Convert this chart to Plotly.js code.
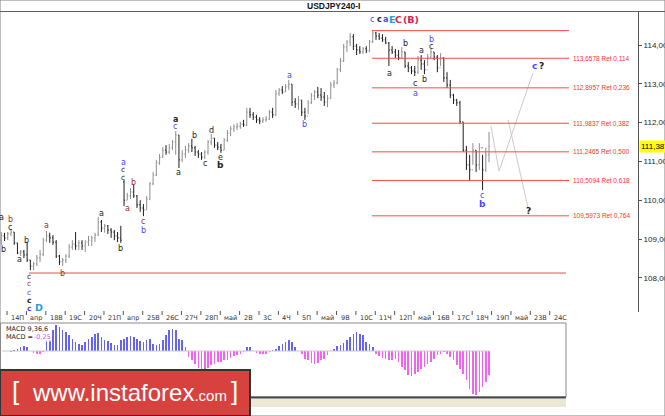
<!DOCTYPE html>
<html><head><meta charset="utf-8">
<script src="https://cdn.plot.ly/plotly-3.0.1.min.js"></script>
<style>html,body{margin:0;padding:0;background:#fff}#chart{width:665px;height:416px}</style>
</head><body><div id="chart"></div>
<script>
// ---------------- DATA ----------------
const openP = [108.97,109.08,109.03,109.13,109.18,108.90,108.64,108.67,108.59,108.46,
 108.30,108.36,108.51,108.61,108.97,109.08,109.03,108.92,108.56,108.41,
 108.46,108.56,108.79,108.87,108.82,108.90,108.82,108.92,108.97,109.03,
 109.10,109.44,109.28,109.34,109.23,109.18,109.08,109.03,110.47,110.00,
 110.11,110.21,110.11,109.88,109.80,109.75,110.03,110.42,110.65,110.96,
 111.11,111.29,111.24,111.35,111.50,111.68,111.04,111.19,111.29,111.40,
 111.35,111.24,111.19,111.11,111.24,111.50,111.60,111.42,111.37,111.29,
 111.55,111.73,111.84,111.89,111.91,111.96,111.94,112.27,112.20,112.14,
 112.07,112.04,112.07,112.09,112.27,112.20,112.74,112.84,112.79,112.92,
 112.99,112.53,112.48,112.58,112.27,112.17,112.51,112.69,112.79,112.71,
 112.66,112.53,112.63,112.97,113.02,113.36,113.59,113.95,114.08,114.21,
 113.97,113.87,113.82,113.90,113.85,114.08,114.31,114.23,114.18,114.13,
 114.05,113.87,113.82,113.74,113.67,113.82,113.46,113.41,113.33,113.30,
 113.61,113.51,113.36,113.69,113.82,113.69,113.41,113.67,113.15,112.97,
 112.71,112.58,112.51,112.02,111.29,110.91,110.78,111.29,110.91,111.35,
 110.78,111.17];
const highP = [109.18,109.16,109.18,109.26,109.18,108.90,108.72,108.72,108.92,108.46,
 108.41,108.59,108.72,109.03,109.21,109.16,109.10,108.97,108.59,108.51,
 108.61,108.87,108.97,109.18,108.97,108.97,108.97,109.08,109.08,109.16,
 109.57,109.49,109.39,109.36,109.28,109.23,109.18,109.34,110.52,110.19,
 110.31,110.39,110.13,110.00,109.90,110.11,110.47,110.73,111.04,111.19,
 111.37,111.42,111.45,111.55,111.78,111.68,111.29,111.40,111.47,111.58,
 111.40,111.29,111.24,111.29,111.55,111.71,111.60,111.50,111.45,111.60,
 111.81,111.91,111.96,111.99,112.02,112.07,112.38,112.38,112.27,112.20,
 112.14,112.14,112.17,112.33,112.38,112.84,112.89,112.94,112.99,113.10,
 112.99,112.63,112.69,112.58,112.38,112.58,112.76,112.84,112.92,112.89,
 112.79,112.71,113.05,113.10,113.41,113.67,114.03,114.13,114.31,114.28,
 114.03,113.97,113.95,113.97,114.13,114.39,114.34,114.31,114.28,114.21,
 114.08,113.97,113.90,113.87,113.95,113.82,113.56,113.46,113.46,113.72,
 113.74,113.61,113.77,113.90,113.82,113.74,113.79,113.67,113.30,113.10,
 112.74,112.61,112.56,112.02,111.40,111.17,111.47,111.29,111.47,111.17,
 111.35,111.76];
const lowP = [108.85,108.95,108.97,109.08,108.85,108.61,108.56,108.51,108.41,108.20,
 108.20,108.30,108.41,108.56,108.92,108.90,108.85,108.51,108.33,108.30,
 108.38,108.51,108.72,108.72,108.72,108.72,108.67,108.82,108.82,108.92,
 109.08,109.18,109.16,109.13,109.03,108.97,108.92,108.90,109.85,110.00,
 110.03,110.06,109.80,109.70,109.59,109.75,110.00,110.39,110.62,110.91,
 111.09,111.17,111.19,111.29,111.17,110.83,110.98,111.09,111.22,111.24,
 111.14,111.09,111.04,111.06,111.17,111.42,111.35,111.29,111.22,111.29,
 111.50,111.65,111.76,111.81,111.84,111.89,111.91,112.12,112.07,111.99,
 111.96,111.99,112.02,112.07,112.12,112.17,112.69,112.74,112.79,112.84,
 112.43,112.38,112.33,112.17,112.07,112.22,112.48,112.58,112.63,112.56,
 112.43,112.40,112.61,112.89,112.99,113.30,113.56,113.82,113.97,113.87,
 113.74,113.77,113.77,113.79,113.82,114.05,114.13,114.13,114.08,114.03,
 113.46,113.77,113.67,113.61,113.67,113.41,113.30,113.25,113.20,113.25,
 113.36,113.25,113.46,113.67,113.61,113.30,113.46,113.05,112.89,112.63,
 112.48,112.43,111.96,111.24,110.78,110.52,110.91,110.73,110.78,110.26,
 110.73,110.98];
const closeP = [109.08,109.03,109.13,109.18,108.90,108.64,108.67,108.59,108.46,108.30,
 108.36,108.51,108.61,108.97,109.08,109.03,108.92,108.56,108.41,108.46,
 108.56,108.79,108.87,108.82,108.90,108.82,108.92,108.97,109.03,109.10,
 109.44,109.28,109.34,109.23,109.18,109.08,109.03,108.97,110.00,110.11,
 110.21,110.11,109.88,109.80,109.75,110.03,110.42,110.65,110.96,111.11,
 111.29,111.24,111.35,111.50,111.68,111.04,111.19,111.29,111.40,111.35,
 111.24,111.19,111.11,111.24,111.50,111.60,111.42,111.37,111.29,111.55,
 111.73,111.84,111.89,111.91,111.96,111.94,112.27,112.20,112.14,112.07,
 112.04,112.07,112.09,112.27,112.20,112.74,112.84,112.79,112.92,112.99,
 112.53,112.48,112.58,112.27,112.17,112.51,112.69,112.79,112.71,112.66,
 112.53,112.63,112.97,113.02,113.36,113.59,113.95,114.08,114.21,113.97,
 113.87,113.82,113.90,113.85,114.08,114.31,114.23,114.18,114.13,114.05,
 113.87,113.82,113.74,113.67,113.82,113.46,113.41,113.33,113.30,113.61,
 113.51,113.36,113.69,113.82,113.69,113.41,113.67,113.15,112.97,112.71,
 112.58,112.51,112.02,111.29,110.91,110.78,111.29,110.91,111.35,110.78,
 111.17,111.387];
const macdHist = [0,0,-0.005,-0.010,0.010,0.021,0.042,0.052,0.042,0.002,-0.021,-0.031,-0.031,-0.010,
 0.114,0.114,0.218,0.270,0.250,0.218,0.198,0.166,0.125,0.094,
 0.073,0.062,0.094,0.125,0.146,0.177,0.187,0.146,0.114,0.104,
 0.083,0.062,0.062,0.114,0.125,0.146,0.156,0.146,0.125,0.104,
 0.094,0.114,0.125,0.073,0.062,0.073,0.114,0.166,0.218,0.229,
 0.218,0.125,0.114,0.042,-0.062,-0.094,-0.135,-0.177,-0.187,-0.198,
 -0.177,-0.146,-0.135,-0.114,-0.114,-0.094,-0.094,-0.073,-0.052,-0.042,
 -0.031,-0.010,0.042,0.042,0.002,-0.021,-0.031,-0.031,-0.031,-0.010,
 0.010,0.021,0.052,0.073,0.094,0.114,0.094,0.042,0.002,-0.031,
 -0.083,-0.094,-0.125,-0.135,-0.125,-0.094,-0.083,-0.042,0.002,0.021,
 0.052,0.062,0.083,0.114,0.146,0.177,0.198,0.177,0.166,0.094,
 0.073,0.042,-0.031,-0.052,-0.073,-0.083,-0.094,-0.094,-0.083,-0.114,
 -0.166,-0.198,-0.250,-0.260,-0.239,-0.218,-0.187,-0.166,-0.135,-0.114,
 -0.083,-0.042,-0.031,-0.010,-0.031,-0.062,-0.094,-0.146,-0.187,-0.239,
 -0.302,-0.395,-0.447,-0.458,-0.426,-0.374,-0.322,-0.250];
const dayLabels = ["14П","апр","18В","19С","20Ч","21П","апр","25В","26С","27Ч","28П","май","2В","3С","4Ч","5П","май","9В","10С","11Ч","12П","май","16В","17С","18Ч","19П","май","23В","24С"];
const priceTicks = [108,109,110,111,112,113,114];
const fibLevels = [113.6578,112.8957,111.9837,111.2465,110.5094,109.5973];
const fibRatios = ["0,114","0,236","0,382","0,500","0,618","0,764"];
const fibHigh = 114.37, fibLow = 108.123;
const lastPrice = 111.387;
const macdLast = "-0,25";
const scenarioA_x = [151.6,154.1,164.6], scenarioA_y = [111.91,110.75,113.28];
const scenarioB_x = [156.9,163.1], scenarioB_y = [112.07,109.80];

// ---------------- LAYOUT HELPERS ----------------
const W=665,H=416;
const px2i = px => (px-1.3)/3.23;
const py2p = py => 114-(py-45)/38.8;
const yP = py => 1-py/H;
const xP = px => px/W;
const barIndex = openP.map((_,i)=>i);

const K="#222222",B="#4848ff",R="#a82828",C="#1e9ee6",RR="#e0204a";
const waveLabels = [
 [372,19,'c',B,8,false],[379,19,'c',K,8,true],[385.5,19,'a',B,8,true],[392,19,'E',C,9.5,true],[398.5,19,'C',RR,9.5,true],[411,19,'(B)',RR,9.5,true],
 [289,75,'a',B,8],[304,124,'b',B,8],[175,119,'a',K,8,true],[175,126,'c',B,8],[194,135,'b',K,8],[211,130,'d',K,8],
 [405,43,'b',K,8],[389,73,'a',K,8],[421,50,'a',K,8],[431,39,'b',B,8],[431,46,'c',K,8],[415,83,'c',K,8],[424,79,'b',K,8],[415,93,'a',B,8],
 [534,66,'c',B,9,true],[541,66,'?',K,9,true],
 [1,217,'a',K,8],[10,219,'b',R,8],[10,227,'c',K,8],[3,249,'b',K,8],[19,259,'a',K,8],[26,240,'b',K,8],[29,276,'c',K,7.5],
 [62,273,'b',R,8],[46,225,'a',R,8],[101,213,'a',K,8],[120,248,'b',K,8],[123,162,'a',B,8],[123,169.5,'c',K,7.5],[123,177,'c',K,7.5],
 [127,208,'a',R,8],[133,182,'b',R,8],[143,221,'c',R,8],[143,230,'b',B,8],[178,172,'a',K,8],[205,163,'c',K,8],[220,157,'e',K,8],[220,165,'b',K,9,true],
 [482,195,'c',B,8],[482,204,'b',B,9,true],[528,211,'?',K,9,true],
 [29,283.5,'c',R,7.5],[29,292,'c',B,7.5],[29,300.5,'c',K,7.5,true],[29,308,'c',B,7.5,true],[39,307,'D',C,9.5,true]
];

const shapes = [], annotations = [];
shapes.push({type:'rect',xref:'paper',yref:'paper',x0:0,x1:1,y0:0,y1:1,line:{color:'#808080',width:1}});
shapes.push({type:'line',xref:'paper',yref:'paper',x0:0,x1:1,y0:yP(11.5),y1:yP(11.5),line:{color:'#606060',width:1}});
shapes.push({type:'line',xref:'x',yref:'y',x0:px2i(372),x1:px2i(569),y0:fibHigh,y1:fibHigh,line:{color:'#ff4848',width:1}});
shapes.push({type:'line',xref:'x',yref:'y',x0:px2i(29),x1:px2i(566),y0:fibLow,y1:fibLow,line:{color:'#e05050',width:1}});
fibLevels.forEach((lv,k)=>{
  shapes.push({type:'line',xref:'x',yref:'y',x0:px2i(372),x1:px2i(569),y0:lv,y1:lv,line:{color:'#ff4848',width:1}});
  annotations.push({xref:'x',yref:'y',x:px2i(571),y:lv,xanchor:'left',yanchor:'middle',showarrow:false,
    text:lv.toFixed(4).replace('.',',')+' Ret '+fibRatios[k],font:{family:'Liberation Sans',size:6.5,color:'#ff3030'}});
});
dayLabels.forEach((t,k)=>{
  const tx = 1.3+3.23*(2+6*k)-0.7;
  shapes.push({type:'line',xref:'paper',yref:'paper',x0:xP(tx),x1:xP(tx),y0:yP(311),y1:yP(315),line:{color:'#555',width:1}});
  annotations.push({xref:'paper',yref:'paper',x:xP(tx+2),y:yP(317.5),xanchor:'left',yanchor:'middle',showarrow:false,
    text:t,font:{family:'DejaVu Sans',size:6.5,color:'#333'}});
});
shapes.push({type:'rect',xref:'paper',yref:'paper',x0:xP(0.5),x1:xP(566),y0:yP(397),y1:yP(323),line:{color:'#8a8a8a',width:1}});
shapes.push({type:'rect',xref:'paper',yref:'paper',x0:xP(0),x1:xP(566),y0:yP(407),y1:yP(399),fillcolor:'#ece8d6',line:{width:0}});
shapes.push({type:'line',xref:'paper',yref:'paper',x0:xP(0),x1:xP(566),y0:yP(397.5),y1:yP(397.5),line:{color:'#454545',width:2}});
shapes.push({type:'line',xref:'x2',yref:'y2',x0:px2i(2),x1:px2i(490),y0:0,y1:0,line:{color:'#c8c8c8',width:1}});
annotations.push({xref:'paper',yref:'paper',x:xP(4),y:yP(328.5),xanchor:'left',yanchor:'middle',showarrow:false,
  text:'MACD 9,36,6',font:{family:'DejaVu Sans',size:6.5,color:'#222'}});
annotations.push({xref:'paper',yref:'paper',x:xP(4),y:yP(337),xanchor:'left',yanchor:'middle',showarrow:false,
  text:'MACD =',font:{family:'DejaVu Sans',size:6.5,color:'#222'}});
annotations.push({xref:'paper',yref:'paper',x:xP(33),y:yP(337),xanchor:'left',yanchor:'middle',showarrow:false,
  text:macdLast,bgcolor:'rgba(255,255,255,0.7)',borderpad:0,font:{family:'DejaVu Sans',size:6.5,color:'#f040f0'}});
shapes.push({type:'rect',xref:'paper',yref:'paper',x0:0,x1:xP(250),y0:0,y1:yP(370),fillcolor:'#d7423e',line:{color:'#333',width:2},layer:'above'});
annotations.push({xref:'paper',yref:'paper',x:xP(10),y:yP(391),xanchor:'left',yanchor:'middle',showarrow:false,
  text:'[',font:{family:'Liberation Sans',size:26,color:'#fff'}});
annotations.push({xref:'paper',yref:'paper',x:xP(30),y:yP(392),xanchor:'left',yanchor:'middle',showarrow:false,
  text:'www.instaforex<span style="font-size:15px">.com</span>',font:{family:'Liberation Sans',size:24,color:'#fff'}});
annotations.push({xref:'paper',yref:'paper',x:xP(229),y:yP(391),xanchor:'left',yanchor:'middle',showarrow:false,
  text:']',font:{family:'Liberation Sans',size:26,color:'#fff'}});
annotations.push({xref:'paper',yref:'y',x:xP(639),y:lastPrice,xanchor:'left',yanchor:'middle',showarrow:false,
  text:lastPrice.toFixed(3).replace('.',','),bgcolor:'#ffff00',borderpad:1,font:{family:'Liberation Sans',size:8,color:'#000'}});
annotations.push({xref:'paper',yref:'paper',x:xP(333),y:yP(6),xanchor:'center',yanchor:'middle',showarrow:false,
  text:'<b>USDJPY240-I</b>',font:{family:'Liberation Sans',size:8.5,color:'#111'}});
waveLabels.forEach(l=>{
  annotations.push({xref:'x',yref:'y',x:px2i(l[0]),y:py2p(l[1]),xanchor:'center',yanchor:'middle',showarrow:false,
    text:l[5]?'<b>'+l[2]+'</b>':l[2],font:{family:'DejaVu Sans',size:l[4],color:l[3]}});
});

const traces = [
 {type:'ohlc',x:barIndex,open:openP,high:highP,low:lowP,close:closeP,xaxis:'x',yaxis:'y',
  increasing:{line:{color:'#8e8e8e',width:1}},decreasing:{line:{color:'#1e1e1e',width:1}},tickwidth:0.3,hoverinfo:'skip'},
 {type:'scatter',mode:'lines',x:scenarioA_x,y:scenarioA_y,line:{color:'#d6c6c6',width:1},hoverinfo:'skip'},
 {type:'scatter',mode:'lines',x:scenarioB_x,y:scenarioB_y,line:{color:'#d6c6c6',width:1},hoverinfo:'skip'},
 {type:'bar',x:barIndex,y:macdHist,xaxis:'x2',yaxis:'y2',width:0.5,
  marker:{color:macdHist.map(v=>v>=0?'#6464ee':'#f064f0'),line:{width:0}},hoverinfo:'skip'}
];

const layout = {
 width:W,height:H,margin:{l:0,r:0,t:0,b:0},paper_bgcolor:'#fff',plot_bgcolor:'#fff',showlegend:false,hovermode:false,
 xaxis:{domain:[0,638/W],range:[px2i(0),px2i(638)],visible:false,rangeslider:{visible:false},fixedrange:true},
 yaxis:{domain:[yP(312),yP(12)],range:[py2p(312),py2p(12)],side:'right',showgrid:false,zeroline:false,
   showline:true,linecolor:'#555',linewidth:1,ticks:'outside',ticklen:3,tickcolor:'#555',
   tickvals:priceTicks,ticktext:priceTicks.map(v=>v.toFixed(3).replace('.',',')),
   tickfont:{family:'Liberation Sans',size:8,color:'#222'},fixedrange:true},
 xaxis2:{domain:[0,566/W],range:[px2i(0),px2i(566)],visible:false,anchor:'y2',fixedrange:true},
 yaxis2:{domain:[yP(397),yP(323)],range:[-0.478,0.291],visible:false,anchor:'x2',fixedrange:true},
 bargap:0,shapes:shapes,annotations:annotations
};
Plotly.newPlot('chart',traces,layout,{staticPlot:true,displayModeBar:false});
</script></body></html>
